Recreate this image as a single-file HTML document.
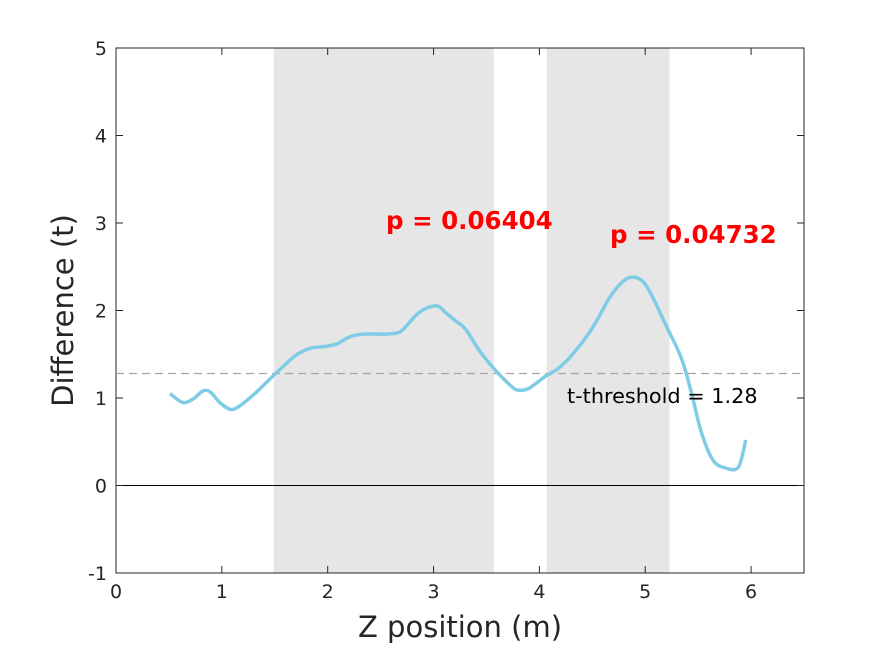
<!DOCTYPE html>
<html><head><meta charset="utf-8"><style>
html,body{margin:0;padding:0;background:#fff;}
svg{display:block;font-family:"DejaVu Sans","Liberation Sans",sans-serif;}
</style></head><body>
<svg id="chart" width="889" height="645" viewBox="0 0 889 645">
<g id="shade"></g>
<g id="grid"></g>
<g id="series"></g>
<g id="labels"></g>
</svg>
<script>
const xs=[0.51,0.63,0.73,0.82,0.89,0.98,1.08,1.17,1.32,1.50,1.69,1.84,1.98,2.09,2.21,2.33,2.50,2.64,2.71,2.83,2.92,3.04,3.11,3.21,3.30,3.44,3.59,3.73,3.80,3.90,4.06,4.17,4.30,4.49,4.66,4.77,4.86,4.96,5.05,5.20,5.34,5.43,5.53,5.64,5.76,5.88,5.95];
const ys=[1.05,0.95,0.99,1.08,1.07,0.95,0.87,0.91,1.06,1.27,1.48,1.57,1.59,1.62,1.70,1.73,1.73,1.74,1.78,1.94,2.02,2.05,1.98,1.88,1.79,1.53,1.31,1.14,1.09,1.11,1.25,1.33,1.48,1.78,2.14,2.31,2.38,2.35,2.20,1.82,1.46,1.09,0.61,0.29,0.20,0.21,0.52];
const regions=[[1.49,3.57],[4.07,5.23]];
const pvals=["p = 0.06404","p = 0.04732"];
const threshold=1.28;
const xTicks=[0,1,2,3,4,5,6];
const yTicks=[-1,0,1,2,3,4,5];
const L=116,R=804,T=48,B=573,xmin=0,xmax=6.5,ymin=-1,ymax=5;
const X=v=>L+(v-xmin)/(xmax-xmin)*(R-L);
const Y=v=>B-(v-ymin)/(ymax-ymin)*(B-T);
const NS="http://www.w3.org/2000/svg";
function mk(parent,tag,attrs,text){const e=document.createElementNS(NS,tag);for(const k in attrs)e.setAttribute(k,attrs[k]);if(text!==undefined)e.textContent=text;document.getElementById(parent).appendChild(e);return e;}
regions.forEach((r,i)=>{
 const e=mk('shade','rect',{x:X(r[0]),y:T,width:X(r[1])-X(r[0]),height:B-T,fill:'#e6e6e6'});
 
 
});
let e=mk('grid','rect',{x:L,y:T,width:R-L,height:B-T,fill:'none',stroke:'#262626','stroke-width':1});


e=mk('grid','line',{x1:L,x2:R,y1:Y(0),y2:Y(0),stroke:'#000','stroke-width':1});


e=mk('grid','line',{x1:L,x2:R,y1:Y(threshold),y2:Y(threshold),stroke:'#a6a6a6','stroke-width':1.3,'stroke-dasharray':'8,5'});


xTicks.forEach(t=>{
 mk('grid','line',{x1:X(t),x2:X(t),y1:B,y2:B-7,stroke:'#262626'});
 mk('grid','line',{x1:X(t),x2:X(t),y1:T,y2:T+7,stroke:'#262626'});
 const l=mk('labels','text',{x:X(t),y:B+25,'text-anchor':'middle','font-size':19,fill:'#262626'},String(t));
 
 
});
yTicks.forEach(t=>{
 mk('grid','line',{x1:L,x2:L+7,y1:Y(t),y2:Y(t),stroke:'#262626'});
 mk('grid','line',{x1:R,x2:R-7,y1:Y(t),y2:Y(t),stroke:'#262626'});
 const l=mk('labels','text',{x:L-9,y:Y(t)+7,'text-anchor':'end','font-size':19,fill:'#262626'},String(t));
 
 
});
const P=xs.map((x,i)=>[X(x),Y(ys[i])]);
let d='M'+P[0][0].toFixed(1)+','+P[0][1].toFixed(1);
for(let i=0;i<P.length-1;i++){
 const p0=P[Math.max(i-1,0)],p1=P[i],p2=P[i+1],p3=P[Math.min(i+2,P.length-1)];
 const c1=[p1[0]+(p2[0]-p0[0])/6,p1[1]+(p2[1]-p0[1])/6];
 const c2=[p2[0]-(p3[0]-p1[0])/6,p2[1]-(p3[1]-p1[1])/6];
 d+=' C'+c1[0].toFixed(1)+','+c1[1].toFixed(1)+' '+c2[0].toFixed(1)+','+c2[1].toFixed(1)+' '+p2[0].toFixed(1)+','+p2[1].toFixed(1);
}
e=mk('series','path',{d:d,fill:'none',stroke:'#80cbe6','stroke-width':3.5,'stroke-linejoin':'round','stroke-linecap':'butt'});


e=mk('labels','text',{x:386,y:229,'font-size':24.5,'font-weight':'bold',fill:'#ff0000'},pvals[0]);


e=mk('labels','text',{x:610,y:243,'font-size':24.5,'font-weight':'bold',fill:'#ff0000'},pvals[1]);


e=mk('labels','text',{x:567,y:403,'font-size':20.8,fill:'#000'},'t-threshold = '+threshold);


e=mk('labels','text',{x:(L+R)/2,y:637,'text-anchor':'middle','font-size':29,fill:'#262626'},'Z position (m)');


e=mk('labels','text',{x:0,y:0,'text-anchor':'middle','font-size':29,fill:'#262626',transform:'translate(73,'+((T+B)/2)+') rotate(-90)'},'Difference (t)');


</script>
</body></html>
